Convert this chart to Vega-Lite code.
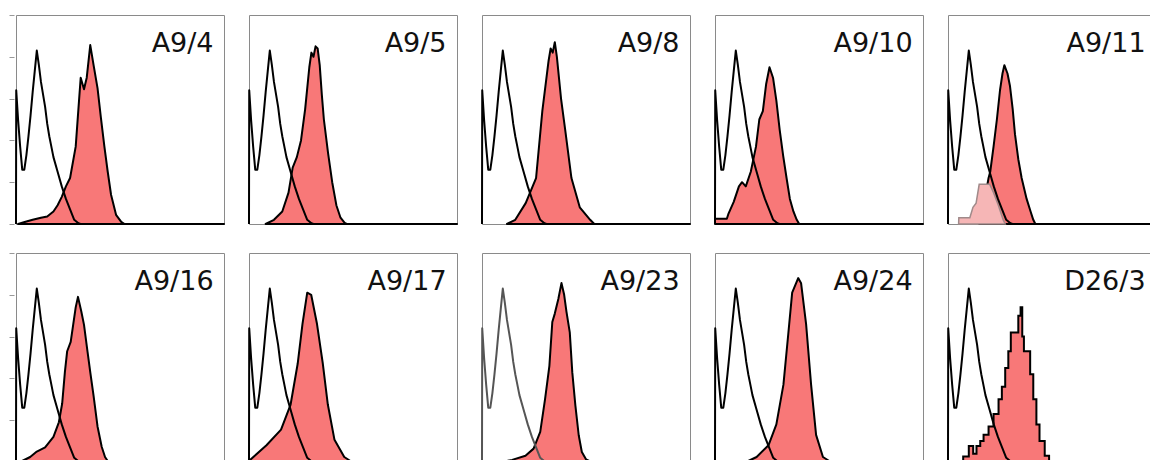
{
  "$schema": "https://vega.github.io/schema/vega-lite/v6.json",
  "padding": {"left": 8, "top": 13, "right": 0, "bottom": 0},
  "background": "white",
  "config": {
    "view": {"stroke": "#8a8a8a", "strokeWidth": 1},
    "header": {"labels": false, "title": null, "labelFontSize": 1, "labelPadding": 0, "labelColor": "transparent"},
    "headerFacet": {"labels": false, "title": null, "labelFontSize": 1, "labelPadding": 0, "labelColor": "transparent"}
  },
  "datasets": {
    "h": [
      {"p":"A9/4","s":"c","x":1,"y":0},{"p":"A9/4","s":"c","x":1.01,"y":0.64},{"p":"A9/4","s":"c","x":1.096,"y":0.5},{"p":"A9/4","s":"c","x":1.202,"y":0.37},{"p":"A9/4","s":"c","x":1.318,"y":0.26},{"p":"A9/4","s":"c","x":1.445,"y":0.26},{"p":"A9/4","s":"c","x":1.585,"y":0.33},{"p":"A9/4","s":"c","x":1.738,"y":0.42},{"p":"A9/4","s":"c","x":1.905,"y":0.52},{"p":"A9/4","s":"c","x":2.089,"y":0.63},{"p":"A9/4","s":"c","x":2.291,"y":0.73},{"p":"A9/4","s":"c","x":2.512,"y":0.83},{"p":"A9/4","s":"c","x":2.754,"y":0.76},{"p":"A9/4","s":"c","x":3.02,"y":0.68},{"p":"A9/4","s":"c","x":3.311,"y":0.62},{"p":"A9/4","s":"c","x":3.631,"y":0.56},{"p":"A9/4","s":"c","x":3.981,"y":0.48},{"p":"A9/4","s":"c","x":4.365,"y":0.42},{"p":"A9/4","s":"c","x":4.786,"y":0.37},{"p":"A9/4","s":"c","x":5.248,"y":0.32},{"p":"A9/4","s":"c","x":6.31,"y":0.25},{"p":"A9/4","s":"c","x":7.586,"y":0.18},{"p":"A9/4","s":"c","x":9.12,"y":0.12},{"p":"A9/4","s":"c","x":10.96,"y":0.07},{"p":"A9/4","s":"c","x":13.18,"y":0.02},{"p":"A9/4","s":"c","x":15.85,"y":0.004},{"p":"A9/4","s":"c","x":17.38,"y":0},{"p":"A9/4","s":"c","x":10000,"y":0},
      {"p":"A9/5","s":"c","x":1,"y":0},{"p":"A9/5","s":"c","x":1.01,"y":0.64},{"p":"A9/5","s":"c","x":1.096,"y":0.5},{"p":"A9/5","s":"c","x":1.202,"y":0.37},{"p":"A9/5","s":"c","x":1.318,"y":0.26},{"p":"A9/5","s":"c","x":1.445,"y":0.26},{"p":"A9/5","s":"c","x":1.585,"y":0.33},{"p":"A9/5","s":"c","x":1.738,"y":0.42},{"p":"A9/5","s":"c","x":1.905,"y":0.52},{"p":"A9/5","s":"c","x":2.089,"y":0.63},{"p":"A9/5","s":"c","x":2.291,"y":0.73},{"p":"A9/5","s":"c","x":2.512,"y":0.83},{"p":"A9/5","s":"c","x":2.754,"y":0.76},{"p":"A9/5","s":"c","x":3.02,"y":0.68},{"p":"A9/5","s":"c","x":3.311,"y":0.62},{"p":"A9/5","s":"c","x":3.631,"y":0.56},{"p":"A9/5","s":"c","x":3.981,"y":0.48},{"p":"A9/5","s":"c","x":4.365,"y":0.42},{"p":"A9/5","s":"c","x":4.786,"y":0.37},{"p":"A9/5","s":"c","x":5.248,"y":0.32},{"p":"A9/5","s":"c","x":6.31,"y":0.25},{"p":"A9/5","s":"c","x":7.586,"y":0.18},{"p":"A9/5","s":"c","x":9.12,"y":0.12},{"p":"A9/5","s":"c","x":10.96,"y":0.07},{"p":"A9/5","s":"c","x":13.18,"y":0.02},{"p":"A9/5","s":"c","x":15.85,"y":0.004},{"p":"A9/5","s":"c","x":17.38,"y":0},{"p":"A9/5","s":"c","x":10000,"y":0},
      {"p":"A9/8","s":"c","x":1,"y":0},{"p":"A9/8","s":"c","x":1.01,"y":0.64},{"p":"A9/8","s":"c","x":1.096,"y":0.5},{"p":"A9/8","s":"c","x":1.202,"y":0.37},{"p":"A9/8","s":"c","x":1.318,"y":0.26},{"p":"A9/8","s":"c","x":1.445,"y":0.26},{"p":"A9/8","s":"c","x":1.585,"y":0.33},{"p":"A9/8","s":"c","x":1.738,"y":0.42},{"p":"A9/8","s":"c","x":1.905,"y":0.52},{"p":"A9/8","s":"c","x":2.089,"y":0.63},{"p":"A9/8","s":"c","x":2.291,"y":0.73},{"p":"A9/8","s":"c","x":2.512,"y":0.83},{"p":"A9/8","s":"c","x":2.754,"y":0.76},{"p":"A9/8","s":"c","x":3.02,"y":0.68},{"p":"A9/8","s":"c","x":3.311,"y":0.62},{"p":"A9/8","s":"c","x":3.631,"y":0.56},{"p":"A9/8","s":"c","x":3.981,"y":0.48},{"p":"A9/8","s":"c","x":4.365,"y":0.42},{"p":"A9/8","s":"c","x":4.786,"y":0.37},{"p":"A9/8","s":"c","x":5.248,"y":0.32},{"p":"A9/8","s":"c","x":6.31,"y":0.25},{"p":"A9/8","s":"c","x":7.586,"y":0.18},{"p":"A9/8","s":"c","x":9.12,"y":0.12},{"p":"A9/8","s":"c","x":10.96,"y":0.07},{"p":"A9/8","s":"c","x":13.18,"y":0.02},{"p":"A9/8","s":"c","x":15.85,"y":0.004},{"p":"A9/8","s":"c","x":17.38,"y":0},{"p":"A9/8","s":"c","x":10000,"y":0},
      {"p":"A9/10","s":"c","x":1,"y":0},{"p":"A9/10","s":"c","x":1.01,"y":0.64},{"p":"A9/10","s":"c","x":1.096,"y":0.5},{"p":"A9/10","s":"c","x":1.202,"y":0.37},{"p":"A9/10","s":"c","x":1.318,"y":0.26},{"p":"A9/10","s":"c","x":1.445,"y":0.26},{"p":"A9/10","s":"c","x":1.585,"y":0.33},{"p":"A9/10","s":"c","x":1.738,"y":0.42},{"p":"A9/10","s":"c","x":1.905,"y":0.52},{"p":"A9/10","s":"c","x":2.089,"y":0.63},{"p":"A9/10","s":"c","x":2.291,"y":0.73},{"p":"A9/10","s":"c","x":2.512,"y":0.83},{"p":"A9/10","s":"c","x":2.754,"y":0.76},{"p":"A9/10","s":"c","x":3.02,"y":0.68},{"p":"A9/10","s":"c","x":3.311,"y":0.62},{"p":"A9/10","s":"c","x":3.631,"y":0.56},{"p":"A9/10","s":"c","x":3.981,"y":0.48},{"p":"A9/10","s":"c","x":4.365,"y":0.42},{"p":"A9/10","s":"c","x":4.786,"y":0.37},{"p":"A9/10","s":"c","x":5.248,"y":0.32},{"p":"A9/10","s":"c","x":6.31,"y":0.25},{"p":"A9/10","s":"c","x":7.586,"y":0.18},{"p":"A9/10","s":"c","x":9.12,"y":0.12},{"p":"A9/10","s":"c","x":10.96,"y":0.07},{"p":"A9/10","s":"c","x":13.18,"y":0.02},{"p":"A9/10","s":"c","x":15.85,"y":0.004},{"p":"A9/10","s":"c","x":17.38,"y":0},{"p":"A9/10","s":"c","x":10000,"y":0},
      {"p":"A9/11","s":"c","x":1,"y":0},{"p":"A9/11","s":"c","x":1.01,"y":0.64},{"p":"A9/11","s":"c","x":1.096,"y":0.5},{"p":"A9/11","s":"c","x":1.202,"y":0.37},{"p":"A9/11","s":"c","x":1.318,"y":0.26},{"p":"A9/11","s":"c","x":1.445,"y":0.26},{"p":"A9/11","s":"c","x":1.585,"y":0.33},{"p":"A9/11","s":"c","x":1.738,"y":0.42},{"p":"A9/11","s":"c","x":1.905,"y":0.52},{"p":"A9/11","s":"c","x":2.089,"y":0.63},{"p":"A9/11","s":"c","x":2.291,"y":0.73},{"p":"A9/11","s":"c","x":2.512,"y":0.83},{"p":"A9/11","s":"c","x":2.754,"y":0.76},{"p":"A9/11","s":"c","x":3.02,"y":0.68},{"p":"A9/11","s":"c","x":3.311,"y":0.62},{"p":"A9/11","s":"c","x":3.631,"y":0.56},{"p":"A9/11","s":"c","x":3.981,"y":0.48},{"p":"A9/11","s":"c","x":4.365,"y":0.42},{"p":"A9/11","s":"c","x":4.786,"y":0.37},{"p":"A9/11","s":"c","x":5.248,"y":0.32},{"p":"A9/11","s":"c","x":6.31,"y":0.25},{"p":"A9/11","s":"c","x":7.586,"y":0.18},{"p":"A9/11","s":"c","x":9.12,"y":0.12},{"p":"A9/11","s":"c","x":10.96,"y":0.07},{"p":"A9/11","s":"c","x":13.18,"y":0.02},{"p":"A9/11","s":"c","x":15.85,"y":0.004},{"p":"A9/11","s":"c","x":17.38,"y":0},{"p":"A9/11","s":"c","x":10000,"y":0},
      {"p":"A9/16","s":"c","x":1,"y":0},{"p":"A9/16","s":"c","x":1.01,"y":0.64},{"p":"A9/16","s":"c","x":1.096,"y":0.5},{"p":"A9/16","s":"c","x":1.202,"y":0.37},{"p":"A9/16","s":"c","x":1.318,"y":0.26},{"p":"A9/16","s":"c","x":1.445,"y":0.26},{"p":"A9/16","s":"c","x":1.585,"y":0.33},{"p":"A9/16","s":"c","x":1.738,"y":0.42},{"p":"A9/16","s":"c","x":1.905,"y":0.52},{"p":"A9/16","s":"c","x":2.089,"y":0.63},{"p":"A9/16","s":"c","x":2.291,"y":0.73},{"p":"A9/16","s":"c","x":2.512,"y":0.83},{"p":"A9/16","s":"c","x":2.754,"y":0.76},{"p":"A9/16","s":"c","x":3.02,"y":0.68},{"p":"A9/16","s":"c","x":3.311,"y":0.62},{"p":"A9/16","s":"c","x":3.631,"y":0.56},{"p":"A9/16","s":"c","x":3.981,"y":0.48},{"p":"A9/16","s":"c","x":4.365,"y":0.42},{"p":"A9/16","s":"c","x":4.786,"y":0.37},{"p":"A9/16","s":"c","x":5.248,"y":0.32},{"p":"A9/16","s":"c","x":6.31,"y":0.25},{"p":"A9/16","s":"c","x":7.586,"y":0.18},{"p":"A9/16","s":"c","x":9.12,"y":0.12},{"p":"A9/16","s":"c","x":10.96,"y":0.07},{"p":"A9/16","s":"c","x":13.18,"y":0.02},{"p":"A9/16","s":"c","x":15.85,"y":0.004},{"p":"A9/16","s":"c","x":17.38,"y":0},{"p":"A9/16","s":"c","x":10000,"y":0},
      {"p":"A9/17","s":"c","x":1,"y":0},{"p":"A9/17","s":"c","x":1.01,"y":0.64},{"p":"A9/17","s":"c","x":1.096,"y":0.5},{"p":"A9/17","s":"c","x":1.202,"y":0.37},{"p":"A9/17","s":"c","x":1.318,"y":0.26},{"p":"A9/17","s":"c","x":1.445,"y":0.26},{"p":"A9/17","s":"c","x":1.585,"y":0.33},{"p":"A9/17","s":"c","x":1.738,"y":0.42},{"p":"A9/17","s":"c","x":1.905,"y":0.52},{"p":"A9/17","s":"c","x":2.089,"y":0.63},{"p":"A9/17","s":"c","x":2.291,"y":0.73},{"p":"A9/17","s":"c","x":2.512,"y":0.83},{"p":"A9/17","s":"c","x":2.754,"y":0.76},{"p":"A9/17","s":"c","x":3.02,"y":0.68},{"p":"A9/17","s":"c","x":3.311,"y":0.62},{"p":"A9/17","s":"c","x":3.631,"y":0.56},{"p":"A9/17","s":"c","x":3.981,"y":0.48},{"p":"A9/17","s":"c","x":4.365,"y":0.42},{"p":"A9/17","s":"c","x":4.786,"y":0.37},{"p":"A9/17","s":"c","x":5.248,"y":0.32},{"p":"A9/17","s":"c","x":6.31,"y":0.25},{"p":"A9/17","s":"c","x":7.586,"y":0.18},{"p":"A9/17","s":"c","x":9.12,"y":0.12},{"p":"A9/17","s":"c","x":10.96,"y":0.07},{"p":"A9/17","s":"c","x":13.18,"y":0.02},{"p":"A9/17","s":"c","x":15.85,"y":0.004},{"p":"A9/17","s":"c","x":17.38,"y":0},{"p":"A9/17","s":"c","x":10000,"y":0},
      {"p":"A9/23","s":"g","x":1,"y":0},{"p":"A9/23","s":"g","x":1.01,"y":0.64},{"p":"A9/23","s":"g","x":1.096,"y":0.5},{"p":"A9/23","s":"g","x":1.202,"y":0.37},{"p":"A9/23","s":"g","x":1.318,"y":0.26},{"p":"A9/23","s":"g","x":1.445,"y":0.26},{"p":"A9/23","s":"g","x":1.585,"y":0.33},{"p":"A9/23","s":"g","x":1.738,"y":0.42},{"p":"A9/23","s":"g","x":1.905,"y":0.52},{"p":"A9/23","s":"g","x":2.089,"y":0.63},{"p":"A9/23","s":"g","x":2.291,"y":0.73},{"p":"A9/23","s":"g","x":2.512,"y":0.83},{"p":"A9/23","s":"g","x":2.754,"y":0.76},{"p":"A9/23","s":"g","x":3.02,"y":0.68},{"p":"A9/23","s":"g","x":3.311,"y":0.62},{"p":"A9/23","s":"g","x":3.631,"y":0.56},{"p":"A9/23","s":"g","x":3.981,"y":0.48},{"p":"A9/23","s":"g","x":4.365,"y":0.42},{"p":"A9/23","s":"g","x":4.786,"y":0.37},{"p":"A9/23","s":"g","x":5.248,"y":0.32},{"p":"A9/23","s":"g","x":6.31,"y":0.25},{"p":"A9/23","s":"g","x":7.586,"y":0.18},{"p":"A9/23","s":"g","x":9.12,"y":0.12},{"p":"A9/23","s":"g","x":10.96,"y":0.07},{"p":"A9/23","s":"g","x":13.18,"y":0.02},{"p":"A9/23","s":"g","x":15.85,"y":0.004},{"p":"A9/23","s":"g","x":17.38,"y":0},{"p":"A9/23","s":"g","x":10000,"y":0},
      {"p":"A9/24","s":"c","x":1,"y":0},{"p":"A9/24","s":"c","x":1.01,"y":0.64},{"p":"A9/24","s":"c","x":1.096,"y":0.5},{"p":"A9/24","s":"c","x":1.202,"y":0.37},{"p":"A9/24","s":"c","x":1.318,"y":0.26},{"p":"A9/24","s":"c","x":1.445,"y":0.26},{"p":"A9/24","s":"c","x":1.585,"y":0.33},{"p":"A9/24","s":"c","x":1.738,"y":0.42},{"p":"A9/24","s":"c","x":1.905,"y":0.52},{"p":"A9/24","s":"c","x":2.089,"y":0.63},{"p":"A9/24","s":"c","x":2.291,"y":0.73},{"p":"A9/24","s":"c","x":2.512,"y":0.83},{"p":"A9/24","s":"c","x":2.754,"y":0.76},{"p":"A9/24","s":"c","x":3.02,"y":0.68},{"p":"A9/24","s":"c","x":3.311,"y":0.62},{"p":"A9/24","s":"c","x":3.631,"y":0.56},{"p":"A9/24","s":"c","x":3.981,"y":0.48},{"p":"A9/24","s":"c","x":4.365,"y":0.42},{"p":"A9/24","s":"c","x":4.786,"y":0.37},{"p":"A9/24","s":"c","x":5.248,"y":0.32},{"p":"A9/24","s":"c","x":6.31,"y":0.25},{"p":"A9/24","s":"c","x":7.586,"y":0.18},{"p":"A9/24","s":"c","x":9.12,"y":0.12},{"p":"A9/24","s":"c","x":10.96,"y":0.07},{"p":"A9/24","s":"c","x":13.18,"y":0.02},{"p":"A9/24","s":"c","x":15.85,"y":0.004},{"p":"A9/24","s":"c","x":17.38,"y":0},{"p":"A9/24","s":"c","x":10000,"y":0},
      {"p":"D26/3","s":"c","x":1,"y":0},{"p":"D26/3","s":"c","x":1.01,"y":0.64},{"p":"D26/3","s":"c","x":1.096,"y":0.5},{"p":"D26/3","s":"c","x":1.202,"y":0.37},{"p":"D26/3","s":"c","x":1.318,"y":0.26},{"p":"D26/3","s":"c","x":1.445,"y":0.26},{"p":"D26/3","s":"c","x":1.585,"y":0.33},{"p":"D26/3","s":"c","x":1.738,"y":0.42},{"p":"D26/3","s":"c","x":1.905,"y":0.52},{"p":"D26/3","s":"c","x":2.089,"y":0.63},{"p":"D26/3","s":"c","x":2.291,"y":0.73},{"p":"D26/3","s":"c","x":2.512,"y":0.83},{"p":"D26/3","s":"c","x":2.754,"y":0.76},{"p":"D26/3","s":"c","x":3.02,"y":0.68},{"p":"D26/3","s":"c","x":3.311,"y":0.62},{"p":"D26/3","s":"c","x":3.631,"y":0.56},{"p":"D26/3","s":"c","x":3.981,"y":0.48},{"p":"D26/3","s":"c","x":4.365,"y":0.42},{"p":"D26/3","s":"c","x":4.786,"y":0.37},{"p":"D26/3","s":"c","x":5.248,"y":0.32},{"p":"D26/3","s":"c","x":6.31,"y":0.25},{"p":"D26/3","s":"c","x":7.586,"y":0.18},{"p":"D26/3","s":"c","x":9.12,"y":0.12},{"p":"D26/3","s":"c","x":10.96,"y":0.07},{"p":"D26/3","s":"c","x":13.18,"y":0.02},{"p":"D26/3","s":"c","x":15.85,"y":0.004},{"p":"D26/3","s":"c","x":17.38,"y":0},{"p":"D26/3","s":"c","x":10000,"y":0},

      {"p":"A9/4","s":"r","x":1.096,"y":0},{"p":"A9/4","s":"r","x":1.585,"y":0.012},{"p":"A9/4","s":"r","x":2.089,"y":0.02},{"p":"A9/4","s":"r","x":3.02,"y":0.03},{"p":"A9/4","s":"r","x":3.981,"y":0.036},{"p":"A9/4","s":"r","x":5.248,"y":0.06},{"p":"A9/4","s":"r","x":6.31,"y":0.09},{"p":"A9/4","s":"r","x":7.586,"y":0.13},{"p":"A9/4","s":"r","x":9.12,"y":0.18},{"p":"A9/4","s":"r","x":10.96,"y":0.22},{"p":"A9/4","s":"r","x":14.06,"y":0.37},{"p":"A9/4","s":"r","x":16.29,"y":0.59},{"p":"A9/4","s":"r","x":17.54,"y":0.7},{"p":"A9/4","s":"r","x":20.32,"y":0.645},{"p":"A9/4","s":"r","x":22.91,"y":0.7},{"p":"A9/4","s":"r","x":26.79,"y":0.856},{"p":"A9/4","s":"r","x":31.05,"y":0.76},{"p":"A9/4","s":"r","x":36.98,"y":0.65},{"p":"A9/4","s":"r","x":42.85,"y":0.51},{"p":"A9/4","s":"r","x":50.12,"y":0.37},{"p":"A9/4","s":"r","x":58.07,"y":0.25},{"p":"A9/4","s":"r","x":67.3,"y":0.14},{"p":"A9/4","s":"r","x":83.95,"y":0.044},{"p":"A9/4","s":"r","x":105.7,"y":0.01},{"p":"A9/4","s":"r","x":122.5,"y":0},{"p":"A9/4","s":"r","x":10000,"y":0},

      {"p":"A9/5","s":"r","x":2.089,"y":0},{"p":"A9/5","s":"r","x":3.02,"y":0.02},{"p":"A9/5","s":"r","x":4.365,"y":0.06},{"p":"A9/5","s":"r","x":5.754,"y":0.15},{"p":"A9/5","s":"r","x":6.918,"y":0.27},{"p":"A9/5","s":"r","x":8.318,"y":0.32},{"p":"A9/5","s":"r","x":10,"y":0.4},{"p":"A9/5","s":"r","x":12.02,"y":0.55},{"p":"A9/5","s":"r","x":14.45,"y":0.75},{"p":"A9/5","s":"r","x":15.85,"y":0.82},{"p":"A9/5","s":"r","x":17.38,"y":0.8},{"p":"A9/5","s":"r","x":19.05,"y":0.85},{"p":"A9/5","s":"r","x":20.89,"y":0.84},{"p":"A9/5","s":"r","x":22.91,"y":0.76},{"p":"A9/5","s":"r","x":25.12,"y":0.62},{"p":"A9/5","s":"r","x":27.54,"y":0.5},{"p":"A9/5","s":"r","x":33.11,"y":0.34},{"p":"A9/5","s":"r","x":39.81,"y":0.2},{"p":"A9/5","s":"r","x":47.86,"y":0.09},{"p":"A9/5","s":"r","x":57.54,"y":0.03},{"p":"A9/5","s":"r","x":69.18,"y":0.005},{"p":"A9/5","s":"r","x":75.86,"y":0},{"p":"A9/5","s":"r","x":10000,"y":0},

      {"p":"A9/8","s":"r","x":3.02,"y":0},{"p":"A9/8","s":"r","x":4.365,"y":0.02},{"p":"A9/8","s":"r","x":6.918,"y":0.1},{"p":"A9/8","s":"r","x":10.96,"y":0.22},{"p":"A9/8","s":"r","x":14.45,"y":0.54},{"p":"A9/8","s":"r","x":19.05,"y":0.78},{"p":"A9/8","s":"r","x":20.89,"y":0.84},{"p":"A9/8","s":"r","x":22.91,"y":0.82},{"p":"A9/8","s":"r","x":25.12,"y":0.87},{"p":"A9/8","s":"r","x":27.54,"y":0.8},{"p":"A9/8","s":"r","x":33.11,"y":0.6},{"p":"A9/8","s":"r","x":39.81,"y":0.45},{"p":"A9/8","s":"r","x":52.48,"y":0.22},{"p":"A9/8","s":"r","x":75.86,"y":0.08},{"p":"A9/8","s":"r","x":120.2,"y":0.02},{"p":"A9/8","s":"r","x":144.5,"y":0},{"p":"A9/8","s":"r","x":10000,"y":0},

      {"p":"A9/10","s":"r","x":1,"y":0.025},{"p":"A9/10","s":"r","x":1.69,"y":0.025},{"p":"A9/10","s":"r","x":1.82,"y":0.05},{"p":"A9/10","s":"r","x":2.291,"y":0.106},{"p":"A9/10","s":"r","x":2.884,"y":0.18},{"p":"A9/10","s":"r","x":3.311,"y":0.2},{"p":"A9/10","s":"r","x":3.908,"y":0.18},{"p":"A9/10","s":"r","x":4.875,"y":0.25},{"p":"A9/10","s":"r","x":6.138,"y":0.37},{"p":"A9/10","s":"r","x":7.112,"y":0.5},{"p":"A9/10","s":"r","x":8.318,"y":0.54},{"p":"A9/10","s":"r","x":9.638,"y":0.67},{"p":"A9/10","s":"r","x":11.17,"y":0.75},{"p":"A9/10","s":"r","x":13.06,"y":0.7},{"p":"A9/10","s":"r","x":15.14,"y":0.59},{"p":"A9/10","s":"r","x":17.54,"y":0.45},{"p":"A9/10","s":"r","x":20.51,"y":0.325},{"p":"A9/10","s":"r","x":23.77,"y":0.22},{"p":"A9/10","s":"r","x":27.54,"y":0.12},{"p":"A9/10","s":"r","x":32.21,"y":0.06},{"p":"A9/10","s":"r","x":37.33,"y":0.02},{"p":"A9/10","s":"r","x":41.69,"y":0},{"p":"A9/10","s":"r","x":10000,"y":0},

      {"p":"A9/11","s":"r","x":3.981,"y":0},{"p":"A9/11","s":"r","x":4.786,"y":0.08},{"p":"A9/11","s":"r","x":6.026,"y":0.22},{"p":"A9/11","s":"r","x":6.486,"y":0.25},{"p":"A9/11","s":"r","x":7.516,"y":0.37},{"p":"A9/11","s":"r","x":8.71,"y":0.5},{"p":"A9/11","s":"r","x":10,"y":0.64},{"p":"A9/11","s":"r","x":11.17,"y":0.72},{"p":"A9/11","s":"r","x":12.13,"y":0.76},{"p":"A9/11","s":"r","x":13.93,"y":0.72},{"p":"A9/11","s":"r","x":15.56,"y":0.66},{"p":"A9/11","s":"r","x":17.54,"y":0.55},{"p":"A9/11","s":"r","x":19.41,"y":0.43},{"p":"A9/11","s":"r","x":22.49,"y":0.31},{"p":"A9/11","s":"r","x":26.06,"y":0.22},{"p":"A9/11","s":"r","x":32.51,"y":0.12},{"p":"A9/11","s":"r","x":38.73,"y":0.06},{"p":"A9/11","s":"r","x":43.65,"y":0.02},{"p":"A9/11","s":"r","x":47.86,"y":0},{"p":"A9/11","s":"r","x":10000,"y":0},
      {"p":"A9/11","s":"p","x":1.6,"y":0},{"p":"A9/11","s":"p","x":1.615,"y":0.03},{"p":"A9/11","s":"p","x":2.63,"y":0.03},{"p":"A9/11","s":"p","x":3.02,"y":0.08},{"p":"A9/11","s":"p","x":3.47,"y":0.1},{"p":"A9/11","s":"p","x":3.98,"y":0.19},{"p":"A9/11","s":"p","x":6.31,"y":0.19},{"p":"A9/11","s":"p","x":7.52,"y":0.15},{"p":"A9/11","s":"p","x":9.29,"y":0.09},{"p":"A9/11","s":"p","x":11.48,"y":0.02},{"p":"A9/11","s":"p","x":12.59,"y":0},

      {"p":"A9/16","s":"r","x":1.202,"y":0},{"p":"A9/16","s":"r","x":1.871,"y":0.024},{"p":"A9/16","s":"r","x":2.512,"y":0.05},{"p":"A9/16","s":"r","x":3.631,"y":0.07},{"p":"A9/16","s":"r","x":5.248,"y":0.12},{"p":"A9/16","s":"r","x":6.668,"y":0.19},{"p":"A9/16","s":"r","x":7.727,"y":0.28},{"p":"A9/16","s":"r","x":8.71,"y":0.43},{"p":"A9/16","s":"r","x":9.638,"y":0.53},{"p":"A9/16","s":"r","x":11.27,"y":0.575},{"p":"A9/16","s":"r","x":12.47,"y":0.65},{"p":"A9/16","s":"r","x":14.06,"y":0.74},{"p":"A9/16","s":"r","x":15.56,"y":0.79},{"p":"A9/16","s":"r","x":18.03,"y":0.72},{"p":"A9/16","s":"r","x":20.32,"y":0.656},{"p":"A9/16","s":"r","x":23.77,"y":0.527},{"p":"A9/16","s":"r","x":26.79,"y":0.43},{"p":"A9/16","s":"r","x":31.05,"y":0.316},{"p":"A9/16","s":"r","x":36.98,"y":0.17},{"p":"A9/16","s":"r","x":44.46,"y":0.073},{"p":"A9/16","s":"r","x":51.52,"y":0.024},{"p":"A9/16","s":"r","x":59.7,"y":0},{"p":"A9/16","s":"r","x":10000,"y":0},

      {"p":"A9/17","s":"r","x":1.047,"y":0.01},{"p":"A9/17","s":"r","x":2.168,"y":0.08},{"p":"A9/17","s":"r","x":4.13,"y":0.155},{"p":"A9/17","s":"r","x":6.31,"y":0.275},{"p":"A9/17","s":"r","x":8.63,"y":0.47},{"p":"A9/17","s":"r","x":10.67,"y":0.66},{"p":"A9/17","s":"r","x":13.18,"y":0.81},{"p":"A9/17","s":"r","x":15.7,"y":0.8},{"p":"A9/17","s":"r","x":20.32,"y":0.66},{"p":"A9/17","s":"r","x":26.3,"y":0.47},{"p":"A9/17","s":"r","x":32.81,"y":0.275},{"p":"A9/17","s":"r","x":44.06,"y":0.106},{"p":"A9/17","s":"r","x":67.92,"y":0.024},{"p":"A9/17","s":"r","x":95.5,"y":0},{"p":"A9/17","s":"r","x":10000,"y":0},

      {"p":"A9/23","s":"r","x":2.512,"y":0},{"p":"A9/23","s":"r","x":3.802,"y":0.01},{"p":"A9/23","s":"r","x":6.855,"y":0.03},{"p":"A9/23","s":"r","x":9.817,"y":0.064},{"p":"A9/23","s":"r","x":13.18,"y":0.144},{"p":"A9/23","s":"r","x":16.29,"y":0.3},{"p":"A9/23","s":"r","x":19.77,"y":0.46},{"p":"A9/23","s":"r","x":22.49,"y":0.67},{"p":"A9/23","s":"r","x":25.12,"y":0.71},{"p":"A9/23","s":"r","x":29.38,"y":0.78},{"p":"A9/23","s":"r","x":33.73,"y":0.856},{"p":"A9/23","s":"r","x":38.02,"y":0.8},{"p":"A9/23","s":"r","x":42.07,"y":0.72},{"p":"A9/23","s":"r","x":48.75,"y":0.62},{"p":"A9/23","s":"r","x":54.45,"y":0.43},{"p":"A9/23","s":"r","x":62.52,"y":0.27},{"p":"A9/23","s":"r","x":72.44,"y":0.128},{"p":"A9/23","s":"r","x":83.18,"y":0.048},{"p":"A9/23","s":"r","x":100,"y":0.013},{"p":"A9/23","s":"r","x":125.9,"y":0},{"p":"A9/23","s":"r","x":10000,"y":0},

      {"p":"A9/24","s":"r","x":3.981,"y":0},{"p":"A9/24","s":"r","x":6.31,"y":0.024},{"p":"A9/24","s":"r","x":10.67,"y":0.08},{"p":"A9/24","s":"r","x":15.14,"y":0.18},{"p":"A9/24","s":"r","x":20.7,"y":0.37},{"p":"A9/24","s":"r","x":25.59,"y":0.61},{"p":"A9/24","s":"r","x":30.48,"y":0.81},{"p":"A9/24","s":"r","x":39.81,"y":0.88},{"p":"A9/24","s":"r","x":45.29,"y":0.855},{"p":"A9/24","s":"r","x":56.49,"y":0.66},{"p":"A9/24","s":"r","x":70.47,"y":0.37},{"p":"A9/24","s":"r","x":87.9,"y":0.13},{"p":"A9/24","s":"r","x":119.1,"y":0.024},{"p":"A9/24","s":"r","x":169,"y":0},{"p":"A9/24","s":"r","x":10000,"y":0},

      {"p":"D26/3","s":"st","x":1.959,"y":0.026},{"p":"D26/3","s":"st","x":2.512,"y":0.077},{"p":"D26/3","s":"st","x":3.048,"y":0.04},{"p":"D26/3","s":"st","x":3.532,"y":0.077},{"p":"D26/3","s":"st","x":4.169,"y":0.1},{"p":"D26/3","s":"st","x":4.831,"y":0.13},{"p":"D26/3","s":"st","x":6.026,"y":0.17},{"p":"D26/3","s":"st","x":7.516,"y":0.23},{"p":"D26/3","s":"st","x":9.376,"y":0.3},{"p":"D26/3","s":"st","x":10.86,"y":0.36},{"p":"D26/3","s":"st","x":12.59,"y":0.45},{"p":"D26/3","s":"st","x":14.45,"y":0.53},{"p":"D26/3","s":"st","x":16.14,"y":0.62},{"p":"D26/3","s":"st","x":22.49,"y":0.7},{"p":"D26/3","s":"st","x":24.89,"y":0.74},{"p":"D26/3","s":"st","x":26.79,"y":0.6},{"p":"D26/3","s":"st","x":28.84,"y":0.53},{"p":"D26/3","s":"st","x":33.11,"y":0.53},{"p":"D26/3","s":"st","x":38.02,"y":0.42},{"p":"D26/3","s":"st","x":43.65,"y":0.3},{"p":"D26/3","s":"st","x":50.12,"y":0.18},{"p":"D26/3","s":"st","x":57.54,"y":0.1},{"p":"D26/3","s":"st","x":72.44,"y":0.03},{"p":"D26/3","s":"st","x":87.9,"y":0},{"p":"D26/3","s":"st","x":10000,"y":0}
    ]
  },
  "data": {"name": "h"},
  "facet": {
    "field": "p",
    "type": "nominal",
    "title": null,
    "sort": ["A9/4","A9/5","A9/8","A9/10","A9/11","A9/16","A9/17","A9/23","A9/24","D26/3"],
    "header": {"title": null, "labels": false, "labelFontSize": 1, "labelPadding": 0, "labelColor": "transparent"}
  },
  "columns": 5,
  "spacing": {"column": 18, "row": 22},
  "resolve": {"scale": {"x": "shared", "y": "shared"}},
  "spec": {
    "width": 208,
    "height": 209,
    "layer": [
      {
        "transform": [{"filter": "datum.s == 'r'"}],
        "mark": {"type": "area", "fill": "#f87878", "stroke": "black", "strokeWidth": 2, "strokeJoin": "round"},
        "encoding": {
          "x": {"field": "x", "type": "quantitative",
                "scale": {"type": "log", "domain": [1, 10000], "nice": false},
                "axis": {"title": null, "labels": false, "domain": false, "grid": false,
                         "values": [1,2,3,4,5,6,7,8,9,10,20,30,40,50,60,70,80,90,100,200,300,400,500,600,700,800,900,1000,2000,3000,4000,5000,6000,7000,8000,9000,10000],
                         "tickColor": "#999", "tickWidth": 1,
                         "tickSize": {"condition": {"test": "indexof([1,10,100,1000,10000], datum.value) >= 0", "value": 5}, "value": 3}}},
          "y": {"field": "y", "type": "quantitative",
                "scale": {"domain": [0, 1], "nice": false, "zero": true},
                "axis": {"title": null, "labels": false, "domain": false, "grid": false,
                         "values": [0,0.05,0.1,0.15,0.2,0.25,0.3,0.35,0.4,0.45,0.5,0.55,0.6,0.65,0.7,0.75,0.8,0.85,0.9,0.95,1],
                         "tickColor": "#999", "tickWidth": 1,
                         "tickSize": {"condition": {"test": "indexof([0,0.2,0.4,0.6,0.8,1], datum.value) >= 0", "value": 5}, "value": 3}}}
        }
      },
      {
        "transform": [{"filter": "datum.s == 'st'"}],
        "mark": {"type": "area", "interpolate": "step-after", "fill": "#f87878", "stroke": "black", "strokeWidth": 2},
        "encoding": {
          "x": {"field": "x", "type": "quantitative"},
          "y": {"field": "y", "type": "quantitative"}
        }
      },
      {
        "transform": [{"filter": "datum.s == 'p'"}],
        "mark": {"type": "area", "fill": "#f6b6b6", "stroke": "#a08a8a", "strokeWidth": 1.5},
        "encoding": {
          "x": {"field": "x", "type": "quantitative"},
          "y": {"field": "y", "type": "quantitative"}
        }
      },
      {
        "transform": [{"filter": "datum.s == 'c' || datum.s == 'g'"}],
        "mark": {"type": "line", "strokeWidth": 2, "strokeJoin": "round"},
        "encoding": {
          "x": {"field": "x", "type": "quantitative"},
          "y": {"field": "y", "type": "quantitative"},
          "stroke": {"field": "s", "type": "nominal", "scale": {"domain": ["c", "g"], "range": ["#000000", "#555555"]}, "legend": null}
        }
      },
      {
        "transform": [{"aggregate": [], "groupby": ["p"]}],
        "mark": {"type": "text", "align": "right", "baseline": "alphabetic", "fontSize": 27, "font": "DejaVu Sans", "color": "#111"},
        "encoding": {
          "text": {"field": "p", "type": "nominal"},
          "x": {"datum": 6300},
          "y": {"datum": 0.825}
        }
      }
    ]
  }
}
